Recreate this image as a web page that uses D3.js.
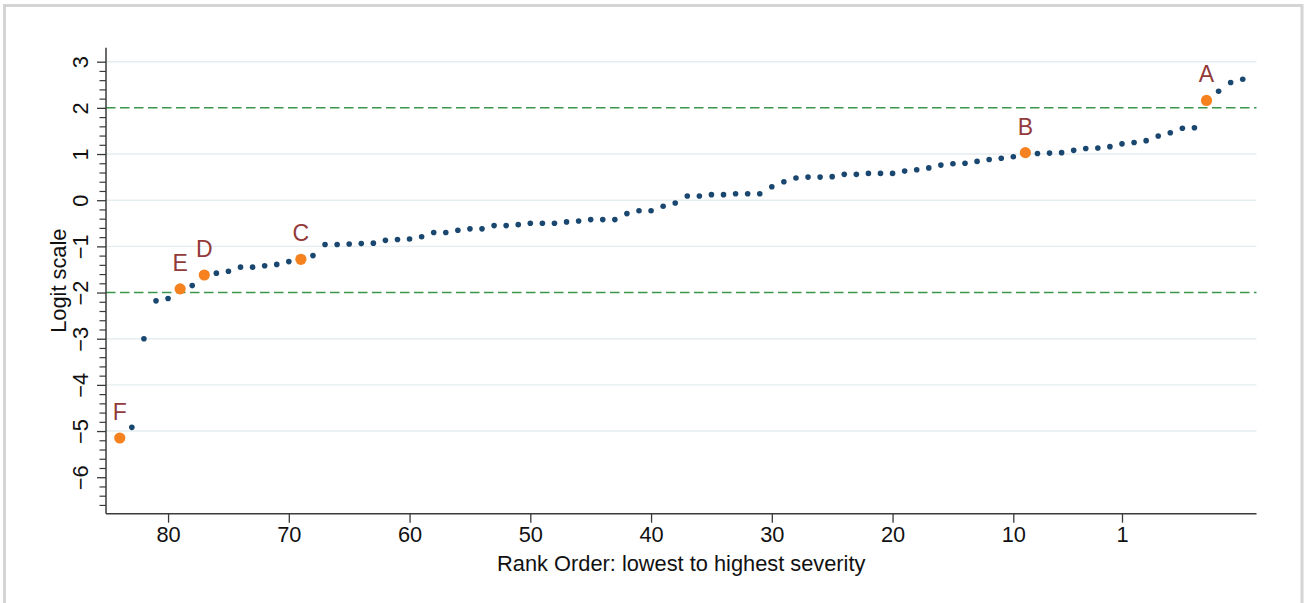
<!DOCTYPE html>
<html>
<head>
<meta charset="utf-8">
<script src="https://cdn.jsdelivr.net/npm/d3@7"></script>
<style>
  html, body { margin: 0; padding: 0; background: #fff; }
  svg { display: block; font-family: "Liberation Sans", Arial, Helvetica, sans-serif; }
</style>
</head>
<body>
<div id="chart"></div>
<script>
(function () {
  'use strict';

  // logit estimates, ordered by rank (rank 84 on the left down to -9 on the right)
  var logit = [
    -5.15, -4.92, -3.00, -2.18, -2.13, -1.92, -1.85, -1.62, -1.58, -1.54,
    -1.45, -1.45, -1.42, -1.39, -1.33, -1.28, -1.20, -0.96, -0.96, -0.95,
    -0.94, -0.93, -0.87, -0.85, -0.84, -0.79, -0.70, -0.70, -0.65, -0.62,
    -0.62, -0.55, -0.55, -0.53, -0.50, -0.50, -0.50, -0.47, -0.45, -0.42,
    -0.42, -0.42, -0.29, -0.23, -0.23, -0.13, -0.06,  0.09,  0.09,  0.12,
     0.12,  0.14,  0.14,  0.14,  0.29,  0.40,  0.48,  0.50,  0.50,  0.51,
     0.56,  0.56,  0.58,  0.58,  0.58,  0.63,  0.66,  0.70,  0.76,  0.79,
     0.80,  0.84,  0.88,  0.91,  0.94,  1.03,  1.01,  1.02,  1.03,  1.08,
     1.12,  1.13,  1.16,  1.22,  1.25,  1.29,  1.39,  1.46,  1.56,  1.57,
     2.16,  2.36,  2.55,  2.62
  ];
  var ranks = d3.range(84, 84 - logit.length, -1);

  var markLabels = ['A', 'B', 'C', 'D', 'E', 'F'];
  var markRanks  = [-6, 9, 69, 77, 79, 84];

  var xTicks      = [80, 70, 60, 50, 40, 30, 20, 10, 1];
  var yTicks      = [-6, -5, -4, -3, -2, -1, 0, 1, 2, 3];
  var gridVals    = [-5, -4, -3, -1, 0, 1, 3];
  var refVals     = [-2, 2];
  var xTitle      = 'Rank Order: lowest to highest severity';
  var yTitle      = 'Logit scale';

  var COL = {
    dot:   '#1a476f',
    mark:  '#f5821f',
    label: '#923a3a',
    ref:   '#3a964a',
    grid:  '#e6edf0',
    axis:  '#3a3a3a',
    text:  '#111',
    frame: '#d4d4d4'
  };

  var W = 1306, H = 603;
  var L = 106, R = 1256.5, T = 47.7, B = 513.7;
  var FS = 21.8;

  var svg = d3.select('#chart').append('svg')
    .attr('width', W).attr('height', H);

  svg.append('rect')
    .attr('x', 4.5).attr('y', 5.5)
    .attr('width', 1297.5).attr('height', 640)
    .attr('fill', 'none')
    .attr('stroke', COL.frame).attr('stroke-width', 3);

  var x = d3.scaleLinear().domain([85.14, -10.14]).range([L, R]);
  var y = d3.scaleLinear().domain([-6.79, 3.303]).range([B, T]);

  // grid
  svg.append('g').selectAll('line').data(gridVals).join('line')
    .attr('x1', L).attr('x2', R)
    .attr('y1', function (d) { return y(d); })
    .attr('y2', function (d) { return y(d); })
    .attr('stroke', COL.grid).attr('stroke-width', 1.4);

  // reference lines at +/-2
  svg.append('g').selectAll('line').data(refVals).join('line')
    .attr('x1', L).attr('x2', R)
    .attr('y1', function (d) { return y(d); })
    .attr('y2', function (d) { return y(d); })
    .attr('stroke', COL.ref).attr('stroke-width', 1.5)
    .attr('stroke-dasharray', '9.5,4.5');

  // y minor ticks
  var minor = d3.range(-33, 16).map(function (k) { return k / 5; })
    .filter(function (v) { return Math.abs(v - Math.round(v)) > 1e-6; });
  svg.append('g')
    .attr('transform', 'translate(' + L + ',0)')
    .call(d3.axisLeft(y).tickValues(minor).tickSize(6.5).tickFormat(''))
    .call(function (ax) {
      ax.select('.domain').remove();
      ax.selectAll('.tick line').attr('stroke', COL.axis).attr('stroke-width', 1.2);
    });

  // y axis
  svg.append('g')
    .attr('transform', 'translate(' + L + ',0)')
    .call(d3.axisLeft(y).tickValues(yTicks).tickSize(9).tickFormat(d3.format('d')))
    .call(function (ax) {
      ax.select('.domain').attr('stroke', COL.axis).attr('stroke-width', 1.5)
        .attr('d', 'M0,' + T + 'V' + B);
      ax.selectAll('.tick line').attr('stroke', COL.axis).attr('stroke-width', 1.3);
      ax.selectAll('.tick text')
        .attr('font-size', FS).attr('fill', COL.text)
        .attr('font-family', null)
        .attr('x', 0).attr('y', -18).attr('dy', null)
        .attr('text-anchor', 'middle')
        .attr('transform', 'rotate(-90)');
    });

  // x axis
  svg.append('g')
    .attr('transform', 'translate(0,' + B + ')')
    .call(d3.axisBottom(x).tickValues(xTicks).tickSize(9).tickPadding(4).tickFormat(d3.format('d')))
    .call(function (ax) {
      ax.select('.domain').attr('stroke', COL.axis).attr('stroke-width', 1.5)
        .attr('d', 'M' + L + ',0H' + R);
      ax.selectAll('.tick line').attr('stroke', COL.axis).attr('stroke-width', 1.3);
      ax.selectAll('.tick text')
        .attr('font-size', FS).attr('fill', COL.text)
        .attr('font-family', null);
    });

  // axis titles
  svg.append('text')
    .attr('x', (L + R) / 2).attr('y', 570.5)
    .attr('text-anchor', 'middle').attr('font-size', FS)
    .attr('fill', COL.text)
    .text(xTitle);

  svg.append('text')
    .attr('transform', 'translate(65.5,' + ((T + B) / 2) + ') rotate(-90)')
    .attr('text-anchor', 'middle').attr('font-size', FS)
    .attr('fill', COL.text)
    .text(yTitle);

  // points
  var rows = ranks.map(function (r, i) { return { rank: r, v: logit[i] }; });
  var marked = rows.filter(function (d) { return markRanks.indexOf(d.rank) >= 0; });

  svg.append('g').selectAll('circle').data(rows.filter(function (d) {
      return markRanks.indexOf(d.rank) < 0;
    })).join('circle')
    .attr('cx', function (d) { return x(d.rank); })
    .attr('cy', function (d) { return y(d.v); })
    .attr('r', 2.8)
    .attr('fill', COL.dot);

  var mg = svg.append('g');
  mg.selectAll('circle').data(marked).join('circle')
    .attr('cx', function (d) { return x(d.rank); })
    .attr('cy', function (d) { return y(d.v); })
    .attr('r', 5.6)
    .attr('fill', COL.mark);

  mg.selectAll('text').data(marked).join('text')
    .attr('x', function (d) { return x(d.rank); })
    .attr('y', function (d) { return y(d.v) - 18; })
    .attr('text-anchor', 'middle')
    .attr('font-size', 23)
    .attr('fill', COL.label)
    .text(function (d) { return markLabels[markRanks.indexOf(d.rank)]; });

}());
</script>
</body>
</html>
